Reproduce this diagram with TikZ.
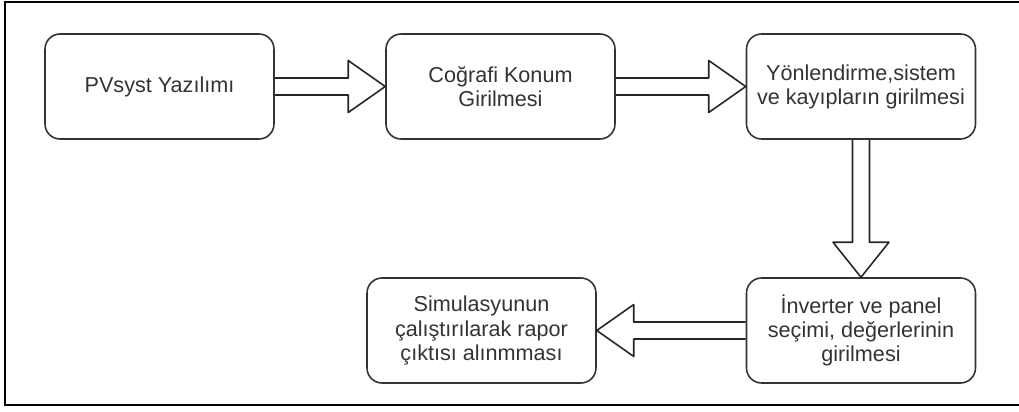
\documentclass[tikz,border=0pt]{standalone}
\usepackage{fontspec}
\setmainfont{Liberation Sans}
\usetikzlibrary{calc}

\begin{document}
\begin{tikzpicture}[x=0.02cm, y=-0.02cm,
  box/.style={rectangle, rounded corners=0.3cm, draw=black!80, line width=0.9pt,
    minimum width=4.58cm, minimum height=2.1cm, align=center, text=black!80,
    font=\fontsize{12.3}{13.7}\selectfont},
  fat/.style={draw=black!85, line width=0.9pt, line join=round}]

\useasboundingbox (0,0) rectangle (1019,412);
\draw[line width=1.1pt] (1019,2) -- (5,2) -- (5,405) -- (1019,405);

\node[box] (pv)    at (159.5,86.5) {PVsyst Yazılımı};
\node[box] (konum) at (500.5,86.5) {Coğrafi Konum\\Girilmesi};
\node[box] (yon)   at (861,86.5)   {Yönlendirme,sistem\\ve kayıpların girilmesi};
\node[box] (inv)   at (861,330.5)  {İnverter ve panel\\seçimi, değerlerinin\\girilmesi};
\node[box] (sim)   at (481.5,330.5){Simulasyunun\\çalıştırılarak rapor\\çıktısı alınmması};

% block arrows
\draw[fat] ($(pv.east)+(0,-8.5)$) -- ($(konum.west)+(-37,-8.5)$) -- ($(konum.west)+(-37,-26)$)
      -- (konum.west) -- ($(konum.west)+(-37,26)$) -- ($(konum.west)+(-37,8.5)$) -- ($(pv.east)+(0,8.5)$);
\draw[fat] ($(konum.east)+(0,-8.5)$) -- ($(yon.west)+(-37,-8.5)$) -- ($(yon.west)+(-37,-26)$)
      -- (yon.west) -- ($(yon.west)+(-37,26)$) -- ($(yon.west)+(-37,8.5)$) -- ($(konum.east)+(0,8.5)$);
\draw[fat] ($(yon.south)+(-8.5,0)$) -- ($(inv.north)+(-8.5,-35)$) -- ($(inv.north)+(-28,-35)$)
      -- (inv.north) -- ($(inv.north)+(28,-35)$) -- ($(inv.north)+(8.5,-35)$) -- ($(yon.south)+(8.5,0)$);
\draw[fat] ($(inv.west)+(0,-8.5)$) -- ($(sim.east)+(37,-8.5)$) -- ($(sim.east)+(37,-26)$)
      -- (sim.east) -- ($(sim.east)+(37,26)$) -- ($(sim.east)+(37,8.5)$) -- ($(inv.west)+(0,8.5)$);
\end{tikzpicture}
\end{document}
